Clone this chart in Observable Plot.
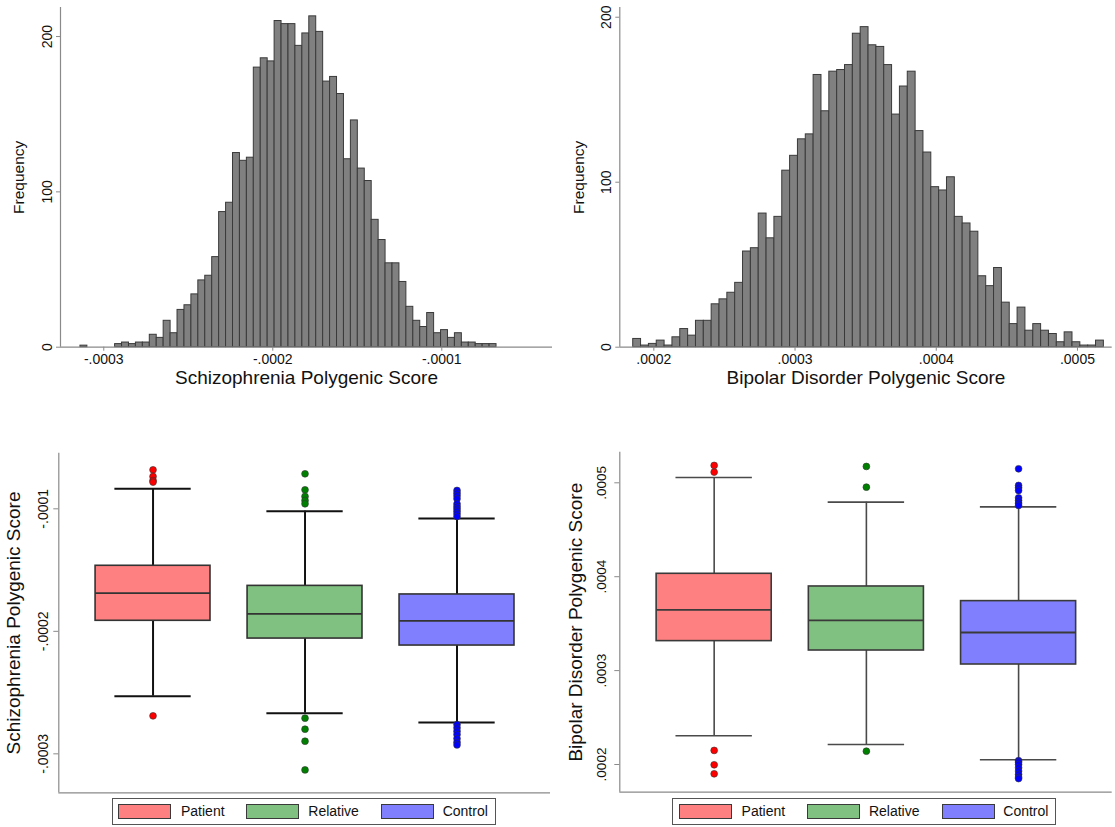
<!DOCTYPE html>
<html><head><meta charset="utf-8">
<script src="https://cdn.jsdelivr.net/npm/d3@7"></script>
<script src="https://cdn.jsdelivr.net/npm/@observablehq/plot@0.6"></script>
<style>
body{margin:0;background:#fff;font-family:"Liberation Sans",Arial,sans-serif;}
#root{position:relative;width:1115px;height:827px;overflow:hidden;background:#fff;}
.panel{position:absolute;}
.legend{position:absolute;top:798px;width:384px;height:27px;border:1px solid #555;box-sizing:border-box;background:#fff;}
.sw{position:absolute;top:5px;width:53px;height:15px;border:1.5px solid #3a3a3a;box-sizing:border-box;}
.lab{position:absolute;top:4px;font-size:14px;line-height:17px;color:#111;white-space:nowrap;}
</style></head><body><div id="root"></div>
<script>
// ---------- data ----------
const groups = ["Patient", "Relative", "Control"];
const groupFill = ["#ff8080", "#80c080", "#8080ff"];
const groupDot = ["#ff0000", "#008000", "#0000ff"];

// Histogram: Schizophrenia polygenic score
const szBinStart = -0.0003138;
const szBinWidth = 4.103e-6;
const szCounts = [1,0,0,0,0,2,3,2,3,3,8,6,17,9,24,27,34,43,46,58,87,93,125,120,122,180,186,184,210,208,208,194,202,213,203,171,174,163,121,146,115,107,82,69,54,54,42,26,17,13,22,9,11,6,9,3,3,2,2,2];
const szTicks = [-0.0003, -0.0002, -0.0001];
const szBoxTicks = [-0.0003, -0.0002, -0.0001];

// Histogram: Bipolar disorder polygenic score
const bpBinStart = 0.0001854;
const bpBinWidth = 5.555e-6;
const bpCounts = [5,1,2,4,1,6,11,7,16,16,26,29,33,39,58,60,81,66,79,107,116,126,129,165,143,167,168,171,190,194,183,182,171,141,158,167,131,118,97,95,103,79,75,70,43,37,48,27,14,24,10,14,10,8,3,9,3,1,1,4];
const bpTicks = [0.0002, 0.0003, 0.0004, 0.0005];
const bpBoxTicks = [0.0002, 0.0003, 0.0004, 0.0005];

const freqTicks = [0, 100, 200];

// Box plot summaries (Patient, Relative, Control)
const szLowerAdj = [-0.0002529, -0.0002668, -0.0002744];
const szQ1 = [-0.0001914, -0.0002059, -0.0002116];
const szMedian = [-0.0001688, -0.0001857, -0.0001914];
const szQ3 = [-0.0001465, -0.0001629, -0.0001699];
const szUpperAdj = [-0.0000837, -0.0001019, -0.0001079];
const szOutliers = [
  [-0.0000682, -0.0000736, -0.0000769, -0.0000782, -0.000269],
  [-0.0000714, -0.0000845, -0.0000899, -0.0000932, -0.0000959, -0.0002709, -0.0002799, -0.0002897, -0.0003131],
  [-0.000085, -0.0000872, -0.0000894, -0.0000918, -0.0000959, -0.0000981, -0.0001, -0.0001019, -0.0001041, -0.0001063,
   -0.0002761, -0.0002788, -0.0002815, -0.0002842, -0.0002875, -0.0002905, -0.0002927]
];

const bpLowerAdj = [0.0002306, 0.0002213, 0.000205];
const bpQ1 = [0.0003314, 0.0003214, 0.0003065];
const bpMedian = [0.0003647, 0.0003534, 0.0003406];
const bpQ3 = [0.0004031, 0.0003896, 0.000374];
const bpUpperAdj = [0.0005057, 0.0004794, 0.0004744];
const bpOutliers = [
  [0.0005185, 0.0005114, 0.000215, 0.0001997, 0.0001901],
  [0.0005174, 0.0004954, 0.0002142],
  [0.0005149, 0.0004972, 0.0004947, 0.0004918, 0.000484, 0.0004812, 0.0004783, 0.0004759,
   0.000204, 0.0002025, 0.0002, 0.0001965, 0.000193, 0.0001895, 0.0001865, 0.000185]
];

// ---------- helpers ----------
const FONT = '"Liberation Sans", Arial, sans-serif';
const fmt = d => (d < 0 ? "-" : "") + Math.abs(d).toFixed(4).replace(/^0/, "");
const root = document.getElementById("root");

function place(el, left, top) {
  el.classList.add("panel");
  el.style.left = left + "px";
  el.style.top = top + "px";
  root.appendChild(el);
}

function hist({counts, start, width, xDomain, yMax, xTicks, title, svgW, mL, mR}) {
  const bins = counts.map((c, i) => ({x1: start + i * width, x2: start + (i + 1) * width, c}));
  return Plot.plot({
    width: svgW, height: 400,
    marginLeft: mL, marginRight: mR, marginTop: 7, marginBottom: 53.3,
    style: {fontFamily: FONT, fontSize: "14px", color: "#111", background: "transparent", overflow: "visible"},
    x: {domain: xDomain},
    y: {domain: [0, yMax]},
    marks: [
      Plot.rect(bins, {x1: "x1", x2: "x2", y1: 0, y2: "c", fill: "#808080", stroke: "#3a3a3a", strokeWidth: 1}),
      Plot.ruleY([0], {stroke: "#8a8a8a", strokeWidth: 1.2}),
      Plot.ruleX([xDomain[0]], {stroke: "#8a8a8a", strokeWidth: 1.2}),
      Plot.axisX({ticks: xTicks, tickFormat: fmt, tickSize: 4, tickPadding: 3, label: null, stroke: "#8a8a8a"}),
      Plot.axisY({ticks: freqTicks, tickFormat: d => String(d), tickSize: 4, tickPadding: 5, tickRotate: -90, label: null, stroke: "#8a8a8a"}),
      Plot.text([title], {text: d => d, frameAnchor: "bottom", textAnchor: "middle", dy: 37, lineAnchor: "bottom", fontSize: 19, fill: "#111"}),
      Plot.text(["Frequency"], {text: d => d, frameAnchor: "left", textAnchor: "middle", lineAnchor: "middle", dx: -41, rotate: -90, fontSize: 15.5, fill: "#111"})
    ]
  });
}

function boxPlot({lo, q1, med, q3, hi, outliers, yDomain, yTicks, title, svgW, mL, mR, mT, mB, line, lw, boxLine, tickPad, tickFont, titleDx}) {
  const xDomain = [0.38, 3.615];
  const bw = 0.378, cw = 0.251;
  const marks = [];
  groups.forEach((g, k) => {
    const i = k + 1;
    const row = [{i, lo: lo[k], q1: q1[k], med: med[k], q3: q3[k], hi: hi[k]}];
    marks.push(
      Plot.ruleX(row, {x: "i", y1: "lo", y2: "hi", stroke: line, strokeWidth: lw}),
      Plot.rect(row, {x1: d => d.i - bw, x2: d => d.i + bw, y1: "q1", y2: "q3", fill: groupFill[k], stroke: boxLine, strokeWidth: 1.6}),
      Plot.ruleY(row, {x1: d => d.i - bw, x2: d => d.i + bw, y: "med", stroke: boxLine, strokeWidth: 1.8}),
      Plot.ruleY(row, {x1: d => d.i - cw, x2: d => d.i + cw, y: "hi", stroke: line, strokeWidth: lw}),
      Plot.ruleY(row, {x1: d => d.i - cw, x2: d => d.i + cw, y: "lo", stroke: line, strokeWidth: lw}),
      Plot.dot(outliers[k].map(v => ({i, v})), {x: "i", y: "v", r: 3.4, fill: groupDot[k], stroke: "#333", strokeWidth: 0.6})
    );
  });
  marks.push(
    Plot.ruleY([yDomain[0]], {stroke: "#8a8a8a", strokeWidth: 1.2}),
    Plot.ruleX([xDomain[0]], {stroke: "#8a8a8a", strokeWidth: 1.2}),
    Plot.axisY({ticks: yTicks, tickFormat: fmt, tickSize: 5, tickPadding: tickPad, tickRotate: -90, label: null, stroke: "#8a8a8a", fontSize: tickFont}),
    Plot.text([title], {text: d => d, frameAnchor: "left", textAnchor: "middle", lineAnchor: "middle", dx: titleDx, rotate: -90, fontSize: 19, fill: "#111"})
  );
  return Plot.plot({
    width: svgW, height: 360,
    marginLeft: mL, marginRight: mR, marginTop: mT, marginBottom: mB,
    style: {fontFamily: FONT, fontSize: "14px", color: "#111", background: "transparent", overflow: "visible"},
    x: {domain: xDomain, axis: null},
    y: {domain: yDomain, axis: null},
    marks
  });
}

function legend(left) {
  const div = document.createElement("div");
  div.className = "legend";
  div.style.left = left + "px";
  const swLeft = [5.6, 133.3, 268.3];
  const labLeft = [68.3, 195.6, 330];
  groups.forEach((g, k) => {
    const sw = document.createElement("div");
    sw.className = "sw";
    sw.style.left = swLeft[k] + "px";
    sw.style.background = groupFill[k];
    const lab = document.createElement("div");
    lab.className = "lab";
    lab.style.left = labLeft[k] + "px";
    lab.textContent = g;
    div.appendChild(sw);
    div.appendChild(lab);
  });
  root.appendChild(div);
}

// ---------- panels ----------
place(hist({
  counts: szCounts, start: szBinStart, width: szBinWidth,
  xDomain: [-0.0003256, -0.0000345], yMax: 218.7, xTicks: szTicks,
  title: "Schizophrenia Polygenic Score", svgW: 557, mL: 60, mR: 5
}), 0, 0);

place(hist({
  counts: bpCounts, start: bpBinStart, width: bpBinWidth,
  xDomain: [0.0001759, 0.0005246], yMax: 205.9, xTicks: bpTicks,
  title: "Bipolar Disorder Polygenic Score", svgW: 558, mL: 62.3, mR: 3.3
}), 557, 0);

place(boxPlot({
  lo: szLowerAdj, q1: szQ1, med: szMedian, q3: szQ3, hi: szUpperAdj, outliers: szOutliers,
  yDomain: [-0.0003318, -0.0000546], yTicks: szBoxTicks,
  title: "Schizophrenia Polygenic Score",
  svgW: 557, mL: 58.3, mR: 7, mT: 12.7, mB: 7.7,
  line: "#111", lw: 2, boxLine: "#333", tickPad: 6, tickFont: 14, titleDx: -45
}), 0, 440);

place(boxPlot({
  lo: bpLowerAdj, q1: bpQ1, med: bpMedian, q3: bpQ3, hi: bpUpperAdj, outliers: bpOutliers,
  yDomain: [0.0001705, 0.0005326], yTicks: bpBoxTicks,
  title: "Bipolar Disorder Polygenic Score",
  svgW: 558, mL: 62.3, mR: 3.3, mT: 11.7, mB: 8.3,
  line: "#4a4a4a", lw: 1.6, boxLine: "#3a3a3a", tickPad: 9, tickFont: 13.5, titleDx: -44
}), 557, 440);

legend(111.7);
legend(672.3);
</script>
</body></html>
